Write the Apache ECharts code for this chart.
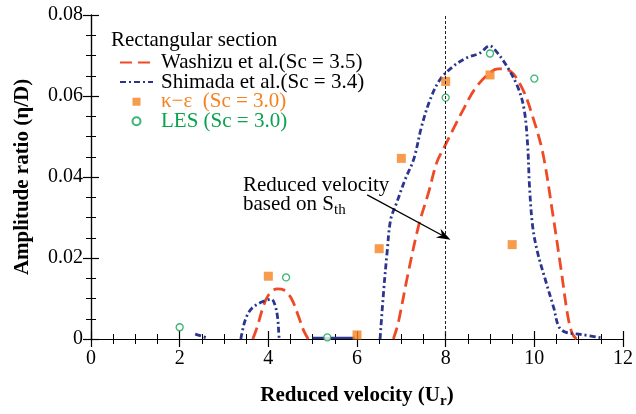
<!DOCTYPE html>
<html>
<head>
<meta charset="utf-8">
<script src="https://cdn.jsdelivr.net/npm/echarts@6/dist/echarts.min.js"></script>
<style>html,body{margin:0;padding:0;background:#fff}#c{width:636px;height:414px}</style>
</head>
<body>
<div id="c"></div>
<script>
// ---- data ----
const xTicks = [0, 2, 4, 6, 8, 10, 12];
const yTicks = [0, 0.02, 0.04, 0.06, 0.08];
const washizuA = [[3.65,0],[3.75,0.003],[3.88,0.0078],[4.0,0.0108],[4.2,0.0124],[4.35,0.0121],[4.52,0.0100],[4.7,0.0050],[4.8,0.0020],[4.9,0]];
const washizuB = [[6.82,0],[6.93,0.004],[7.13,0.015],[7.39,0.028],[7.61,0.036],[7.8,0.0436],[7.96,0.0472],[8.17,0.0518],[8.4,0.0567],[8.65,0.0616],[8.95,0.0653],[9.18,0.0667],[9.45,0.0662],[9.74,0.0616],[9.96,0.055],[10.19,0.046],[10.41,0.0313],[10.6,0.0174],[10.75,0.006],[10.85,0.0015],[10.95,0]];
const shimadaA = [[2.35,0.0012],[2.5,0.0007],[2.62,0.0002]];
const shimadaB = [[3.38,0],[3.48,0.0047],[3.63,0.0076],[3.89,0.0093],[4.07,0.0098],[4.15,0.0084],[4.21,0.0052],[4.24,0.0007],[4.25,0]];
const shimadaC = [[5.0,0.0003],[5.95,0.0003]];
const shimadaD = [[6.52,0],[6.6,0.0117],[6.68,0.0215],[6.76,0.0295],[6.9,0.0338],[7.09,0.0395],[7.28,0.0444],[7.46,0.0526],[7.65,0.0591],[7.87,0.064],[8.17,0.0673],[8.47,0.0694],[8.77,0.0706],[8.99,0.0724],[9.14,0.071],[9.36,0.0677],[9.62,0.0624],[9.77,0.0567],[9.85,0.0477],[9.89,0.0379],[9.96,0.028],[10.07,0.0215],[10.26,0.0142],[10.44,0.0076],[10.55,0.0031],[10.7,0.0017],[11.07,0.0011],[11.5,0.0003]];
const kEps = [[4.0,0.0155],[6.0,0.001],[6.5,0.0223],[7.0,0.0446],[8.0,0.0636],[9.0,0.0652],[9.5,0.0233]];
const les = [[2.0,0.0029],[4.4,0.0152],[5.33,0.0004],[8.0,0.0596],[9.0,0.0705],[10.0,0.0643]];
const thresholdX = 8;
const arrowFrom = [6.23, 0.0356];
const arrowTo = [7.97, 0.0253];

const NAME_W = 'Washizu et al.(Sc = 3.5)';
const NAME_S = 'Shimada et al.(Sc = 3.4)';
const NAME_K = 'κ−ε  (Sc = 3.0)';
const NAME_L = 'LES (Sc = 3.0)';
const RED = '#ef4a26', BLUE = '#2b3590', ORANGE = '#f5821f', GREEN = '#0aa24e';
const FONT = "'Liberation Serif','Times New Roman',serif";

const chart = echarts.init(document.getElementById('c'));
const tickStyle = {show:true, inside:true, length:8, lineStyle:{color:'#000', width:1.2}};
const minorStyle = {show:true, splitNumber:4, length:5, lineStyle:{color:'#000', width:1}};
const axLine = {show:true, lineStyle:{color:'#000', width:1.2}};
const redStyle = {color:RED, width:2.8, type:[12,6]};
const blueStyle = {color:BLUE, width:2.8, type:[6,3,2,3]};

function lineSeries(name, data, style){
  return {name, type:'line', data, showSymbol:false, symbol:'none', smooth:0.35, lineStyle:style, color:style.color, animation:false, z:3};
}

chart.setOption({
  animation:false,
  grid:{left:91, right:9, top:15, bottom:73},
  xAxis:[{
    type:'value', min:0, max:12, interval:2, position:'bottom',
    axisLine:axLine, axisTick:tickStyle, minorTick:minorStyle, splitLine:{show:false},
    axisLabel:{color:'#000', fontSize:20, fontFamily:FONT, margin:10},
    name:'{a|Reduced velocity (U}{s|r}{a|)}', nameLocation:'middle', nameGap:44,
    nameTextStyle:{rich:{a:{fontSize:21, fontWeight:'bold', fontFamily:FONT, color:'#000'}, s:{fontSize:15, fontWeight:'bold', fontFamily:FONT, color:'#000', verticalAlign:'bottom', padding:[11,0,0,0]}}}
  },{
    type:'value', min:0, max:12, interval:2, position:'top',
    axisLine:axLine, axisTick:tickStyle, minorTick:minorStyle, splitLine:{show:false}, axisLabel:{show:false}
  }],
  yAxis:[{
    type:'value', min:0, max:0.08, interval:0.02, position:'left',
    axisLine:axLine, axisTick:tickStyle, minorTick:minorStyle, splitLine:{show:false},
    axisLabel:{color:'#000', fontSize:20, fontFamily:FONT, margin:8, formatter:v=> v===0?'0':v.toFixed(2)},
    name:'Amplitude ratio (η/D)', nameLocation:'middle', nameGap:58, nameRotate:90,
    nameTextStyle:{fontSize:21, fontWeight:'bold', fontFamily:FONT, color:'#000'}
  },{
    type:'value', min:0, max:0.08, interval:0.02, position:'right',
    axisLine:axLine, axisTick:tickStyle, minorTick:minorStyle, splitLine:{show:false}, axisLabel:{show:false}
  }],
  legend:{
    orient:'vertical', left:119, top:52, padding:0, itemWidth:33, itemHeight:8, itemGap:-1.4,
    textStyle:{fontSize:21, fontFamily:FONT, color:'#000', padding:[0,0,0,3]},
    data:[
      {name:NAME_W, itemStyle:{opacity:0}},
      {name:NAME_S, itemStyle:{opacity:0}},
      {name:NAME_K, icon:'path://M0,0h10v10h-10z', textStyle:{color:ORANGE}},
      {name:NAME_L, icon:'circle', textStyle:{color:GREEN}}
    ]
  },
  graphic:[
    {type:'text', left:111, top:30, style:{text:'Rectangular section', fontSize:21, fontFamily:FONT, fill:'#000'}},
    {type:'text', left:243, top:175, style:{text:'{a|Reduced velocity}\n{a|based on S}{s|th}', rich:{a:{fontSize:21, fontFamily:FONT, fill:'#000', lineHeight:19, verticalAlign:'top'}, s:{fontSize:15, fontFamily:FONT, fill:'#000', verticalAlign:'top', padding:[9,0,0,0]}}}}
  ],
  series:[
    lineSeries(NAME_W, washizuA, redStyle),
    lineSeries(NAME_W, washizuB, redStyle),
    lineSeries(NAME_S, shimadaA, blueStyle),
    lineSeries(NAME_S, shimadaB, blueStyle),
    lineSeries(NAME_S, shimadaC, {color:BLUE, width:2.2, type:'solid'}),
    lineSeries(NAME_S, shimadaD, blueStyle),
    {name:NAME_K, type:'scatter', data:kEps, symbol:'rect', symbolSize:9, itemStyle:{color:ORANGE}, z:4},
    {name:NAME_L, type:'scatter', data:les, symbol:'circle', symbolSize:7, itemStyle:{color:'#fff', borderColor:GREEN, borderWidth:1.3}, z:4},
    {name:'annotation', type:'line', data:[], z:2,
      markLine:{silent:true, symbol:'none', label:{show:false}, animation:false,
        data:[
          {xAxis:thresholdX, lineStyle:{color:'#222', width:1, type:[3,2]}, symbol:'none'},
          [{coord:arrowFrom, symbol:'none'},{coord:arrowTo, symbol:'path://M5,0L10,13L5,9L0,13z', symbolSize:[10,14], lineStyle:{color:'#000', width:1.3, type:'solid'}}]
        ],
        lineStyle:{color:'#000', width:1.3, type:'solid'}
      }
    }
  ]
});
</script>
</body>
</html>
